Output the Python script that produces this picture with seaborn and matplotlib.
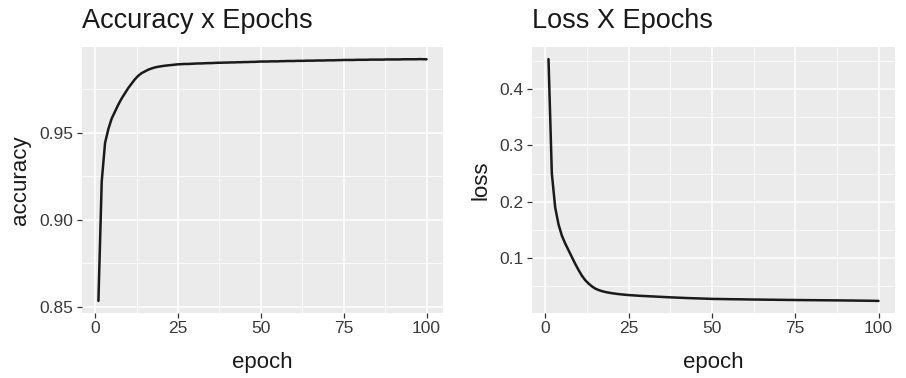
import matplotlib
matplotlib.use("Agg")
import matplotlib.pyplot as plt
from matplotlib.ticker import FixedLocator
import seaborn as sns
import pandas as pd

epochs = list(range(1, 101))

accuracy = [
    0.8535, 0.9220, 0.9440, 0.9520, 0.9580, 0.9620, 0.9660, 0.9695, 0.9725, 0.9755,
    0.9780, 0.9805, 0.9825, 0.9840, 0.9850, 0.9860, 0.9867, 0.9873, 0.9877, 0.9880,
    0.9883, 0.9885, 0.9887, 0.9889, 0.9891,
    0.9892, 0.9893, 0.9893, 0.9894, 0.9895, 0.9896, 0.9896, 0.9897, 0.9898, 0.9898,
    0.9899, 0.9900, 0.9900, 0.9901, 0.9901, 0.9902, 0.9902, 0.9903, 0.9903, 0.9904,
    0.9904, 0.9905, 0.9905, 0.9906, 0.9907,
    0.9907, 0.9907, 0.9908, 0.9908, 0.9908, 0.9909, 0.9909, 0.9910, 0.9910, 0.9910,
    0.9911, 0.9911, 0.9911, 0.9912, 0.9912, 0.9912, 0.9913, 0.9913, 0.9913, 0.9914,
    0.9914, 0.9914, 0.9915, 0.9915, 0.9916,
    0.9916, 0.9916, 0.9916, 0.9917, 0.9917, 0.9917, 0.9917, 0.9918, 0.9918, 0.9918,
    0.9918, 0.9918, 0.9919, 0.9919, 0.9919, 0.9919, 0.9919, 0.9920, 0.9920, 0.9920,
    0.9920, 0.9920, 0.9921, 0.9920, 0.9920,
]

loss = [
    0.4530, 0.2500, 0.1900, 0.1600, 0.1400, 0.1260, 0.1140, 0.1020, 0.0900, 0.0790,
    0.0690, 0.0610, 0.0550, 0.0500, 0.0460, 0.0435, 0.0415, 0.0400, 0.0388, 0.0378,
    0.0370, 0.0362, 0.0356, 0.0350, 0.0345,
    0.0341, 0.0337, 0.0333, 0.0330, 0.0327, 0.0324, 0.0321, 0.0318, 0.0315, 0.0312,
    0.0309, 0.0306, 0.0303, 0.0301, 0.0298, 0.0296, 0.0293, 0.0291, 0.0289, 0.0287,
    0.0285, 0.0283, 0.0281, 0.0279, 0.0277,
    0.0276, 0.0275, 0.0274, 0.0273, 0.0272, 0.0271, 0.0270, 0.0270, 0.0269, 0.0268,
    0.0267, 0.0266, 0.0265, 0.0265, 0.0264, 0.0263, 0.0262, 0.0262, 0.0261, 0.0260,
    0.0260, 0.0259, 0.0258, 0.0258, 0.0257,
    0.0256, 0.0256, 0.0255, 0.0255, 0.0254, 0.0254, 0.0253, 0.0253, 0.0252, 0.0252,
    0.0251, 0.0251, 0.0250, 0.0250, 0.0249, 0.0248, 0.0248, 0.0247, 0.0246, 0.0246,
    0.0245, 0.0244, 0.0243, 0.0242, 0.0241,
]

x_ticks = [0, 25, 50, 75, 100]
acc_ticks = [0.85, 0.90, 0.95]
loss_ticks = [0.1, 0.2, 0.3, 0.4]

df = pd.DataFrame({"epoch": epochs, "accuracy": accuracy, "loss": loss})

sns.set_theme(style="darkgrid")
plt.rcParams["font.family"] = ["Liberation Sans", "DejaVu Sans"]

fig = plt.figure(figsize=(9.06, 3.78), dpi=100)
ax1 = fig.add_axes([82 / 906, 1 - 313 / 378, 361 / 906, 266 / 378])
ax2 = fig.add_axes([532 / 906, 1 - 313 / 378, 363 / 906, 266 / 378])


def expand(vals):
    lo, hi = min(vals), max(vals)
    d = (hi - lo) * 0.05
    return lo - d, hi + d


panels = [
    (ax1, "accuracy", "Accuracy x Epochs", acc_ticks, "{:.2f}"),
    (ax2, "loss", "Loss X Epochs", loss_ticks, "{:.1f}"),
]

for ax, col, title, yt, fmt in panels:
    sns.lineplot(data=df, x="epoch", y=col, ax=ax, color="#1a1a1a", linewidth=1.8)
    ax.set_facecolor("#EBEBEB")
    for s in ax.spines.values():
        s.set_visible(False)
    ax.set_xlim(*expand(df["epoch"]))
    ax.set_ylim(*expand(df[col]))
    ax.xaxis.set_major_locator(FixedLocator(x_ticks))
    ax.yaxis.set_major_locator(FixedLocator(yt))
    ax.set_xticklabels([str(v) for v in x_ticks])
    ax.set_yticklabels([fmt.format(v) for v in yt])
    minor_x = [(x_ticks[i] + x_ticks[i + 1]) / 2 for i in range(len(x_ticks) - 1)]
    step = yt[1] - yt[0]
    minor_y = [yt[0] - step / 2] + [(yt[i] + yt[i + 1]) / 2 for i in range(len(yt) - 1)] + [yt[-1] + step / 2]
    ax.xaxis.set_minor_locator(FixedLocator(minor_x))
    ax.yaxis.set_minor_locator(FixedLocator(minor_y))
    ax.grid(which="major", color="white", linewidth=1.1)
    ax.grid(which="minor", color="white", linewidth=0.55)
    ax.set_axisbelow(True)
    ax.tick_params(which="major", axis="both", length=3.5, width=0.9, color="#333333",
                   labelsize=12.5, labelcolor="#3a3a3a", pad=2.5, bottom=True, left=True)
    ax.tick_params(which="minor", length=0)
    ax.set_xlabel("epoch", fontsize=16, color="#1a1a1a", labelpad=11)
    ax.set_ylabel(col, fontsize=16, color="#1a1a1a", labelpad=6)
    ax.set_title(title, loc="left", fontsize=19.5, color="#1a1a1a", pad=14)

fig.savefig("out.png", dpi=100)
